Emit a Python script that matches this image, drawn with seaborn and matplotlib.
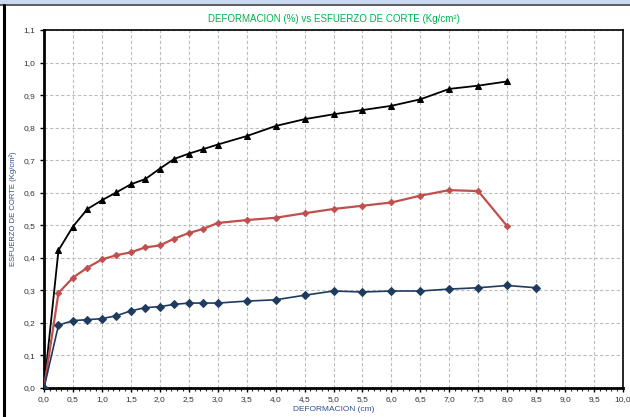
import matplotlib
matplotlib.use("Agg")
import matplotlib.pyplot as plt
from matplotlib.ticker import MultipleLocator, FuncFormatter
from matplotlib.patches import Rectangle
from matplotlib.lines import Line2D
import seaborn as sns
import pandas as pd

sns.set_style("white")
plt.rcParams["font.family"] = ["Liberation Sans Narrow", "Liberation Sans", "DejaVu Sans"]

# Deformation readings (cm) and shear stress (Kg/cm2) for the three specimens
def_a = [0, 0.25, 0.5, 0.75, 1.0, 1.25, 1.5, 1.75, 2.0, 2.25, 2.5, 2.75, 3.0,
         3.5, 4.0, 4.5, 5.0, 5.5, 6.0, 6.5, 7.0, 7.5, 8.0]
esf_a = [0.0, 0.423, 0.496, 0.550, 0.577, 0.601, 0.626, 0.642, 0.674, 0.704, 0.720,
         0.734, 0.748, 0.774, 0.805, 0.826, 0.841, 0.854, 0.867, 0.887, 0.919, 0.929, 0.942]

def_b = [0, 0.25, 0.5, 0.75, 1.0, 1.25, 1.5, 1.75, 2.0, 2.25, 2.5, 2.75, 3.0,
         3.5, 4.0, 4.5, 5.0, 5.5, 6.0, 6.5, 7.0, 7.5, 8.0]
esf_b = [0.0, 0.292, 0.339, 0.370, 0.395, 0.408, 0.417, 0.432, 0.438, 0.459, 0.476,
         0.489, 0.507, 0.516, 0.523, 0.537, 0.550, 0.560, 0.570, 0.591, 0.608, 0.605, 0.497]

def_c = [0, 0.25, 0.5, 0.75, 1.0, 1.25, 1.5, 1.75, 2.0, 2.25, 2.5, 2.75, 3.0,
         3.5, 4.0, 4.5, 5.0, 5.5, 6.0, 6.5, 7.0, 7.5, 8.0, 8.5]
esf_c = [0.0, 0.193, 0.207, 0.210, 0.213, 0.222, 0.237, 0.247, 0.250, 0.257, 0.261,
         0.261, 0.261, 0.267, 0.271, 0.285, 0.298, 0.295, 0.298, 0.298, 0.304, 0.308,
         0.315, 0.308]

x_ticks = [i * 0.5 for i in range(21)]
y_ticks = [i * 0.1 for i in range(12)]

title = "DEFORMACION (%) vs ESFUERZO DE CORTE (Kg/cm²)"
xlabel = "DEFORMACION (cm)"
ylabel = "ESFUERZO DE CORTE (Kg/cm²)"

fig = plt.figure(figsize=(6.30, 4.17), dpi=100)
ax = fig.add_axes([44 / 630, 29 / 417, 579 / 630, 358 / 417])

# header band and left frame edge
fig.patches.append(Rectangle((0, 1 - 4 / 417), 1, 4 / 417, transform=fig.transFigure,
                             facecolor="#C6D9F1", edgecolor="none", zorder=0))
fig.lines.append(Line2D([0, 1], [1 - 5 / 417, 1 - 5 / 417], transform=fig.transFigure,
                        color="#404040", lw=1.2))
fig.lines.append(Line2D([4 / 630, 4 / 630], [0, 1 - 5 / 417], transform=fig.transFigure,
                        color="black", lw=2.2))

series = [
    (def_a, esf_a, "black", "^", 5.0, 1.3),
    (def_b, esf_b, "#C0504D", "D", 3.2, 1.6),
    (def_c, esf_c, "#1F3B5E", "D", 3.8, 1.2),
]
for xs, ys, col, mk, ms, lw in series:
    df = pd.DataFrame({"x": xs, "y": ys})
    sns.lineplot(data=df, x="x", y="y", ax=ax, color=col, marker=mk, markersize=ms,
                 markeredgecolor=col, markerfacecolor=col, lw=lw, sort=False,
                 estimator=None, zorder=3)

ax.set_xlim(0, 10)
ax.set_ylim(0, 1.1)
ax.set_xticks(x_ticks)
ax.set_yticks(y_ticks)
ax.xaxis.set_minor_locator(MultipleLocator(0.1))
comma = FuncFormatter(lambda v, p: f"{v:.1f}".replace(".", ","))
ax.xaxis.set_major_formatter(comma)
ax.yaxis.set_major_formatter(comma)
ax.grid(True, which="major", color="#BDBDBD", lw=0.8, ls=(0, (3, 2)))
ax.set_axisbelow(True)

for side in ["top", "right"]:
    ax.spines[side].set_visible(True)
    ax.spines[side].set_color("black")
    ax.spines[side].set_linewidth(1.2)
for side in ["left", "bottom"]:
    ax.spines[side].set_color("black")
    ax.spines[side].set_linewidth(2.0)

ax.tick_params(axis="both", which="major", direction="out", length=3, width=1,
               labelsize=6, colors="black", pad=3)
ax.tick_params(axis="x", which="minor", direction="out", length=2.5, width=0.8,
               bottom=True)
ax.tick_params(axis="y", which="major", left=True)
ax.tick_params(axis="x", which="major", bottom=True)
for lab in ax.get_xticklabels() + ax.get_yticklabels():
    lab.set_color("#333333")

ax.set_title(title, color="#00B050", fontsize=7, pad=6)
ax.set_xlabel(xlabel, color="#2F4F8F", fontsize=6, labelpad=2)
ax.set_ylabel(ylabel, color="#2F4F8F", fontsize=5.5)
ax.yaxis.set_label_coords(-0.046, 0.5)

fig.savefig("out.png", dpi=100)
